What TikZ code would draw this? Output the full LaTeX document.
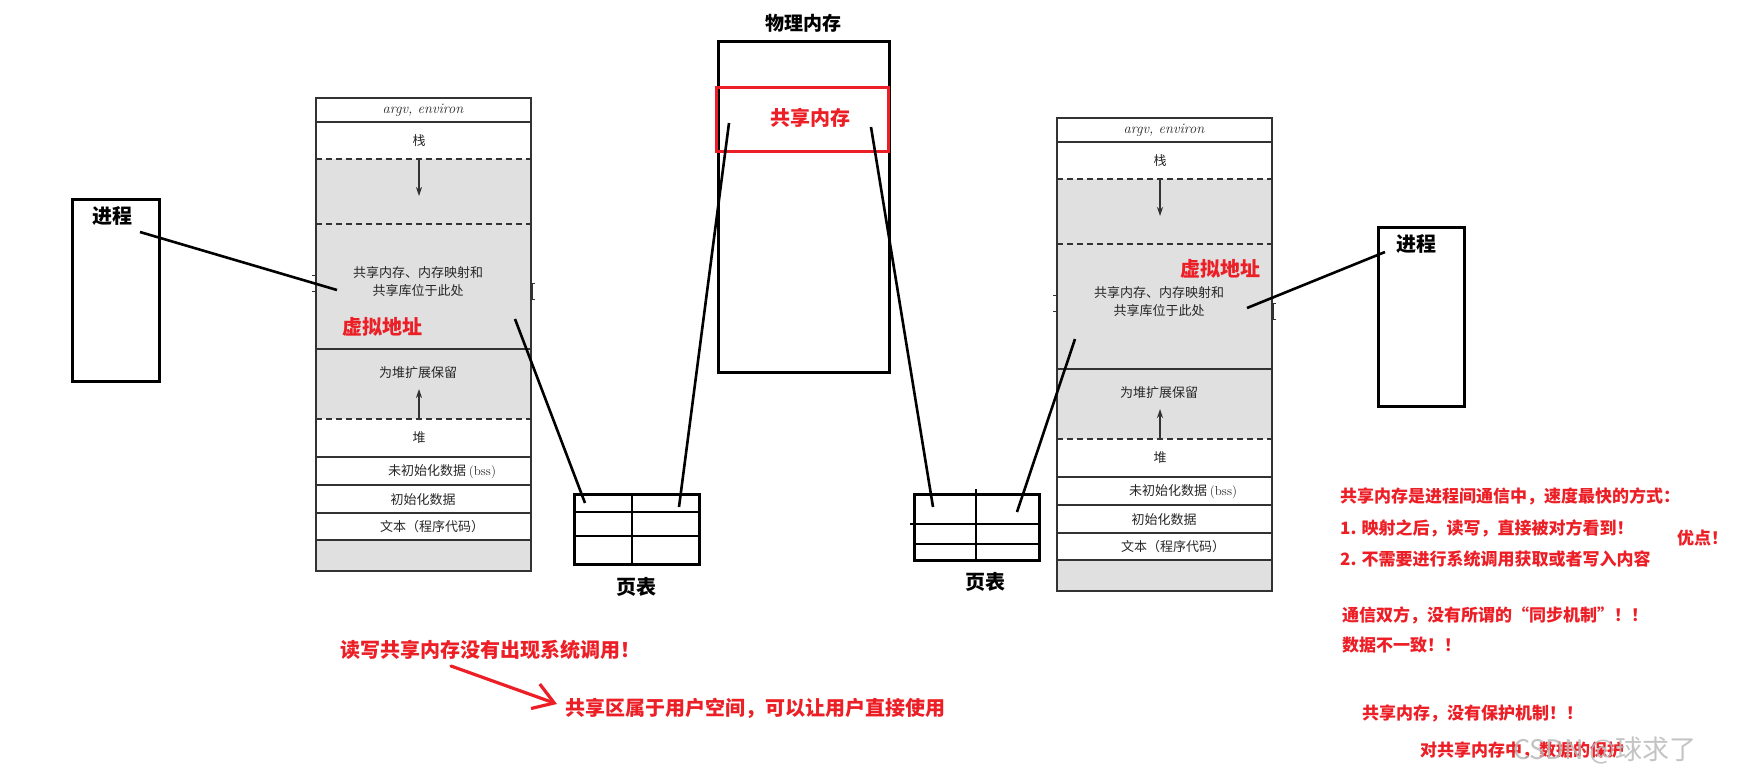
\documentclass[tikz,border=0pt]{standalone}
\usepackage{fontspec}
\usepackage{tikz}
\usetikzlibrary{
    arrows.meta,
    positioning
}
\newfontfamily\cjk{Noto Sans CJK SC}
\definecolor{annored}{RGB}{236,30,38}
\definecolor{bggray}{RGB}{224,224,224}
\definecolor{inkgray}{RGB}{50,50,50}
\tikzset{
  heavy/.style   = {draw=black, line width=2.8pt, inner sep=0pt},
  link/.style    = {black, line width=2.6pt},
  layline/.style = {inkgray, line width=1.3pt},
  laydash/.style = {inkgray, line width=1.3pt, dash pattern=on 6pt off 4pt},
  book/.style    = {font=\cjk\fontsize{13}{15}\selectfont, text=black!85, inner sep=0pt},
  tag/.style     = {font=\cjk\bfseries\fontsize{20}{24}\selectfont, inner sep=0pt},
  note/.style    = {font=\cjk\bfseries\fontsize{17}{20}\selectfont, text=annored,
                    inner sep=0pt, anchor=west}
}

% memory layout of one process, drawn from its top-left corner
\newcommand{\memlayout}{%
  \fill[bggray] (0,61) rectangle (215,321);
  \fill[bggray] (0,442) rectangle (215,473);
  \draw[layline] (0,0) rectangle (215,473);
  \draw[layline] (0,24) -- (215,24);
  \draw[laydash] (0,61) -- (215,61);
  \draw[laydash] (0,126) -- (215,126);
  \draw[layline] (0,251) -- (215,251);
  \draw[laydash] (0,321) -- (215,321);
  \foreach \y in {359,387,415,442}
    \draw[layline] (0,\y) -- (215,\y);
  \draw[layline, -{Stealth[length=9pt,width=6pt]}] (103,61) -- (103,98);
  \draw[layline, -{Stealth[length=9pt,width=6pt]}] (103,321) -- (103,291);
  \draw[layline, line width=1pt] (-4,177) -- (-1,177) -- (-1,193) -- (-4,193);
  \draw[layline, line width=1pt] (219,185) -- (216,185) -- (216,201) -- (219,201);
  \node[book, font=\rmfamily\itshape\fontsize{14.5}{16}\selectfont] (argv) at (107,12) {argv, environ};
  \node[book] (stack)  at (103,43)  {栈};
  \node[book] (share1) at (102,175) {共享内存、内存映射和};
  \node[book] (share2) at (102,193) {共享库位于此处};
  \node[book] (heapres) at (102,275) {为堆扩展保留};
  \node[book] (heap)   at (103,340) {堆};
  \node[book] (bss)    at (126,374) {未初始化数据 {\rmfamily(bss)}};
  \node[book] (data)   at (107,402) {初始化数据};
  \node[book] (text)   at (116,429) {文本（程序代码）};
}

\begin{document}
\begin{tikzpicture}[x=1pt, y=-1pt,
    redbox/.style={draw=annored, line width=2.8pt, inner sep=0pt},
    redtag/.style={tag, text=annored},
    hint/.style={font=\cjk\bfseries\fontsize{20}{24}\selectfont, text=annored,
                 inner sep=0pt, anchor=west},
    redarr/.style={annored, line width=3.2pt, line cap=round,
                   -{Straight Barb[length=20pt,width=26pt,line width=3.2pt]}}
  ]
    \useasboundingbox (0,0) rectangle (1738,782);

    % Processes
    \node[heavy, anchor=north west, minimum width=87, minimum height=182] (lproc) at (71,198) {};
    \node[tag] (lproclbl) at (112,216) {进程};
    \node[heavy, anchor=north west, minimum width=86, minimum height=179] (rproc) at (1377,226) {};
    \node[tag] (rproclbl) at (1416,244) {进程};

    % Virtual memory layouts
    \begin{scope}[shift={(316,98)}, name prefix=lm-]
      \memlayout
    \end{scope}
    \begin{scope}[shift={(1057,118)}, name prefix=rm-]
      \memlayout
    \end{scope}
    \node[redtag] (lvirt) at (382,327) {虚拟地址};
    \node[redtag] (rvirt) at (1220,269) {虚拟地址};

    % Physical memory
    \node[heavy, anchor=north west, minimum width=171, minimum height=331] (phys) at (717,40) {};
    \node[tag, font=\cjk\bfseries\fontsize{19}{22}\selectfont, above=7pt of phys] (physlbl) {物理内存};
    \node[redbox, anchor=north west, minimum width=172, minimum height=64] (shmem) at (715,86) {};
    \node[redtag] (shmemlbl) at (810,118) {共享内存};

    % Page tables
    \node[heavy, anchor=north west, minimum width=125, minimum height=70] (lpt) at (573,493) {};
    \draw[link] (lpt.north west) ++(59,0) -- ++(0,70);
    \draw[link] (lpt.north west) ++(0,19) -- ++(125,0);
    \draw[link] (lpt.north west) ++(0,43) -- ++(125,0);
    \node[tag, below=11pt of lpt] (lptlbl) {页表};
    \node[heavy, anchor=north west, minimum width=125, minimum height=66] (rpt) at (913,493) {};
    \draw[link] (rpt.north west) ++(63,-4) -- ++(0,73);
    \draw[link] (rpt.north west) ++(-3,31) -- ++(128,0);
    \draw[link] (rpt.north west) ++(0,51) -- ++(125,0);
    \node[tag, below=10pt of rpt, xshift=9pt] (rptlbl) {页表};

    % Mappings
    \coordinate (lprocpt) at (140,232);
    \coordinate (lmA) at (337,290);
    \coordinate (lmB) at (515,319);
    \coordinate (lptA) at (585,503);
    \coordinate (lptB) at (679,507);
    \coordinate (physA) at (729,123);
    \coordinate (physB) at (871,127);
    \coordinate (rptA) at (933,507);
    \coordinate (rptB) at (1017,512);
    \coordinate (rmA) at (1075,339);
    \coordinate (rmB) at (1247,308);
    \coordinate (rprocpt) at (1385,252);
    \draw[link] (lprocpt) -- (lmA);
    \draw[link] (lmB) -- (lptA);
    \draw[link] (lptB) -- (physA);
    \draw[link] (physB) -- (rptA);
    \draw[link] (rptB) -- (rmA);
    \draw[link] (rmB) -- (rprocpt);

    % Notes below
    \node[hint] (syscall) at (340,650) {读写共享内存没有出现系统调用！};
    \node[hint] (userspace) at (565,708) {共享区属于用户空间，可以让用户直接使用};
    \coordinate (arrfrom) at (451,666);
    \coordinate (arrto) at (557,704);
    \draw[redarr] (arrfrom) -- (arrto);

    % Notes right
    \node[note] (fast)  at (1340,496) {共享内存是进程间通信中，速度最快的方式：};
    \node[note] (pro1)  at (1340,528) {1. 映射之后，读写，直接被对方看到！};
    \node[note] (pro2)  at (1340,559) {2. 不需要进行系统调用获取或者写入内容};
    \node[note] (pros)  at (1677,538) {优点！};
    \node[note] (sync)  at (1342,615) {通信双方，没有所谓的“同步机制”！！};
    \node[note] (incon) at (1342,645) {数据不一致！！};
    \node[note] (prot)  at (1362,713) {共享内存，没有保护机制！！};
    \node[note] (guard) at (1420,750) {对共享内存中，数据的保护};
    \node[font=\cjk\fontsize{27}{30}\selectfont, text=gray!55, opacity=0.85,
          inner sep=0pt, anchor=west] (mark) at (1513,750) {CSDN @球求了};
  \end{tikzpicture}
\end{document}
